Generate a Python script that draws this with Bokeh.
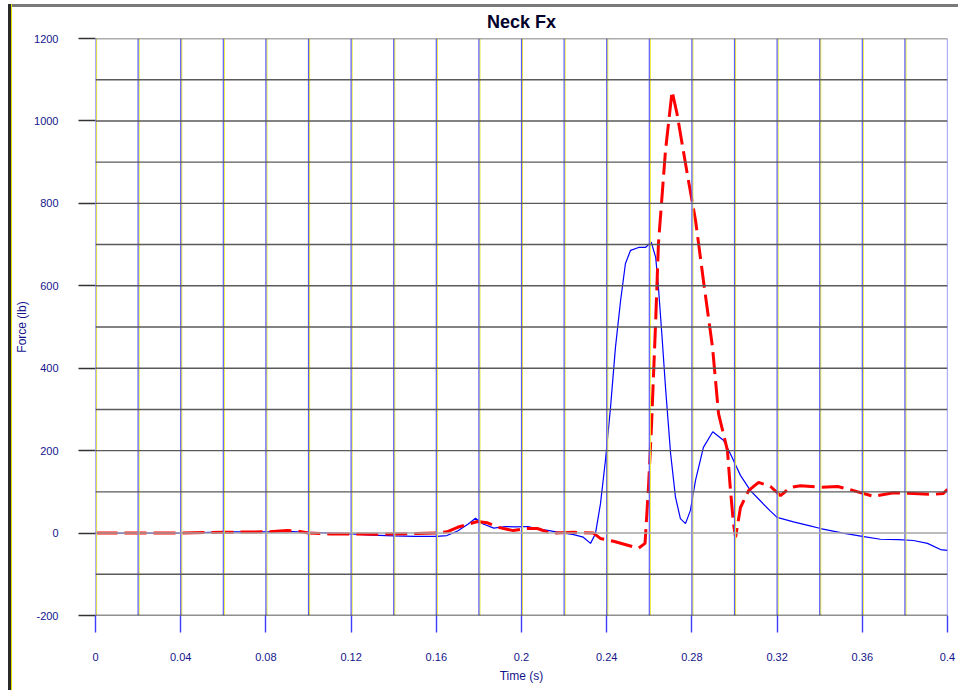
from bokeh.plotting import figure
from bokeh.models import Range1d, FixedTicker, Span, InlineStyleSheet
from bokeh.embed import file_html
from bokeh.resources import INLINE

# ---- data ----
time_blue = [0, 0.01, 0.02, 0.03, 0.04, 0.05, 0.06, 0.07, 0.08, 0.09, 0.1, 0.11, 0.12,
             0.13, 0.14, 0.15, 0.16, 0.165, 0.17, 0.175, 0.1784, 0.182, 0.187, 0.1925,
             0.197, 0.203, 0.2075, 0.213, 0.218, 0.224, 0.229, 0.2324, 0.2347, 0.2371,
             0.2394, 0.2418, 0.2441, 0.2465, 0.2488, 0.2512, 0.255, 0.2582, 0.2609,
             0.263, 0.2643, 0.266, 0.2676, 0.27, 0.2723, 0.2746, 0.277, 0.2793, 0.2817,
             0.2854, 0.2898, 0.2948, 0.298, 0.3028, 0.3075, 0.312, 0.3165, 0.32, 0.3277,
             0.335, 0.3404, 0.351, 0.36, 0.3685, 0.377, 0.384, 0.3906, 0.3967, 0.4]
force_blue = [0, 0, 0, 0, 0, 1, 3, 3, 3, 4, 2, 0, -2,
              -5, -7, -8, -8, -6, 5, 22, 36, 22, 12, 16,
              15, 16, 10, 6, 1, -3, -10, -25, -2, 72,
              176, 305, 450, 563, 654, 686, 693, 693, 706,
              669, 596, 475, 354, 193, 87, 35, 23, 55, 128,
              208, 246, 225, 193, 140, 103, 79, 55, 38, 27,
              18, 11, 0, -8, -15, -16, -18, -25, -40, -42]

time_red = [0, 0.02, 0.04, 0.06, 0.08, 0.09, 0.095, 0.1, 0.11, 0.12, 0.13, 0.14, 0.15,
            0.16, 0.165, 0.17, 0.1793, 0.184, 0.189, 0.1962, 0.202, 0.2075, 0.2136,
            0.2244, 0.2338, 0.237, 0.2432, 0.2549, 0.258, 0.2596, 0.261, 0.263, 0.2643,
            0.2676, 0.2707, 0.273, 0.2778, 0.2817, 0.2854, 0.2897, 0.2925, 0.2967,
            0.298, 0.2995, 0.3005, 0.3028, 0.3066, 0.3113, 0.3169, 0.3216, 0.3263,
            0.331, 0.3404, 0.3484, 0.3559, 0.3653, 0.3746, 0.384, 0.3934, 0.398, 0.4]
force_red = [0, 0, 0, 2, 3, 6, 5, 0, -2, -2, -3, -2, -1,
             0, 3, 14, 28, 25, 14, 6, 11, 11, 0,
             2, 0, -13, -20, -37, -25, 110, 256, 516, 703,
             928, 1072, 1018, 872, 759, 613, 450, 290, 200,
             111, 23, -10, 62, 103, 123, 113, 91, 111,
             115, 111, 113, 103, 89, 98, 96, 94, 96, 106]

x_ticks = [0, 0.04, 0.08, 0.12, 0.16, 0.2, 0.24, 0.28, 0.32, 0.36, 0.4]
x_tick_labels = ["0", "0.04", "0.08", "0.12", "0.16", "0.2", "0.24", "0.28", "0.32", "0.36", "0.4"]
y_ticks = [-200, 0, 200, 400, 600, 800, 1000, 1200]
y_tick_labels = ["-200", "0", "200", "400", "600", "800", "1000", "1200"]
x_grid = [0, 0.02, 0.04, 0.06, 0.08, 0.1, 0.12, 0.14, 0.16, 0.18, 0.2,
          0.22, 0.24, 0.26, 0.28, 0.3, 0.32, 0.34, 0.36, 0.38, 0.4]
y_grid = [-200, -100, 0, 100, 200, 300, 400, 500, 600, 700, 800, 900, 1000, 1100, 1200]

FONT = "Liberation Sans"
LABEL_COLOR = "#14148c"

W, H = 958, 690
BL, BR, BT, BB = 95, 11, 38, 75
X0, X1, Y0, Y1 = 0, 0.4, -200, 1200

css = InlineStyleSheet(css=""":host { position: relative; }
:host::before {
  content: ""; position: absolute; left: 8px; right: 0; top: 4px; height: 3px;
  background: #7a7a7a; pointer-events: none; z-index: 10;
}
:host::after {
  content: ""; position: absolute; left: 8px; top: 4px; bottom: 0; width: 3px;
  background: #2a2a2a; border-right: 1px solid #e4e400; pointer-events: none; z-index: 10;
}""")

p = figure(width=W, height=H, output_backend="svg", toolbar_location=None, tools="",
           x_range=Range1d(X0, X1), y_range=Range1d(Y0, Y1),
           min_border_left=BL, min_border_right=BR, min_border_top=BT, min_border_bottom=BB,
           title="Neck Fx", stylesheets=[css])
p.outline_line_color = None
p.background_fill_color = "white"
p.border_fill_color = "white"
p.xgrid.visible = False
p.ygrid.visible = False

p.title.align = "center"
p.title.text_font = FONT
p.title.text_font_size = "18px"
p.title.text_font_style = "bold"
p.title.text_color = "#00002a"
p.title.standoff = 14

# vertical grid: blue line with a yellow fringe on its right
px = (X1 - X0) / (W - BL - BR)
for g in x_grid:
    p.add_layout(Span(location=g + px, dimension="height", line_color="#ecec3c", line_width=1.2))
    p.add_layout(Span(location=g, dimension="height", line_color="#5c5cff", line_width=1.2))
# horizontal grid
for g in y_grid:
    col = "#a6a6a6" if g == 0 else ("#202020" if g == Y0 else "#5a5a5a")
    p.add_layout(Span(location=g, dimension="width", line_color=col, line_width=1.4))

# axes
for ax in (p.xaxis[0], p.yaxis[0]):
    ax.axis_line_color = None
    ax.minor_tick_line_color = None
    ax.major_tick_in = 0
    ax.major_tick_out = 17
    ax.major_tick_line_width = 1.4
    ax.major_label_text_font = FONT
    ax.major_label_text_font_size = "11px"
    ax.major_label_text_color = LABEL_COLOR
    ax.axis_label_text_font = FONT
    ax.axis_label_text_font_size = "12px"
    ax.axis_label_text_font_style = "normal"
    ax.axis_label_text_color = LABEL_COLOR

p.xaxis.ticker = FixedTicker(ticks=x_ticks)
p.xaxis.major_label_overrides = {t: l for t, l in zip(x_ticks, x_tick_labels)}
p.xaxis.major_tick_line_color = "#3c3cff"
p.xaxis.major_label_standoff = 20
p.xaxis.axis_label = "Time (s)"
p.xaxis.axis_label_standoff = 5

p.yaxis.ticker = FixedTicker(ticks=y_ticks)
p.yaxis.major_label_overrides = {t: l for t, l in zip(y_ticks, y_tick_labels)}
p.yaxis.major_tick_line_color = "#333333"
p.yaxis.major_label_standoff = 20
p.yaxis.axis_label = "Force (lb)"
p.yaxis.axis_label_standoff = 2

# series
p.line(time_blue, force_blue, line_color="#0000ff", line_width=1.2)
p.line(time_red, force_red, line_color="#ff0000", line_width=3, line_dash="22 7")

open("out.html", "w").write(file_html(p, INLINE))
